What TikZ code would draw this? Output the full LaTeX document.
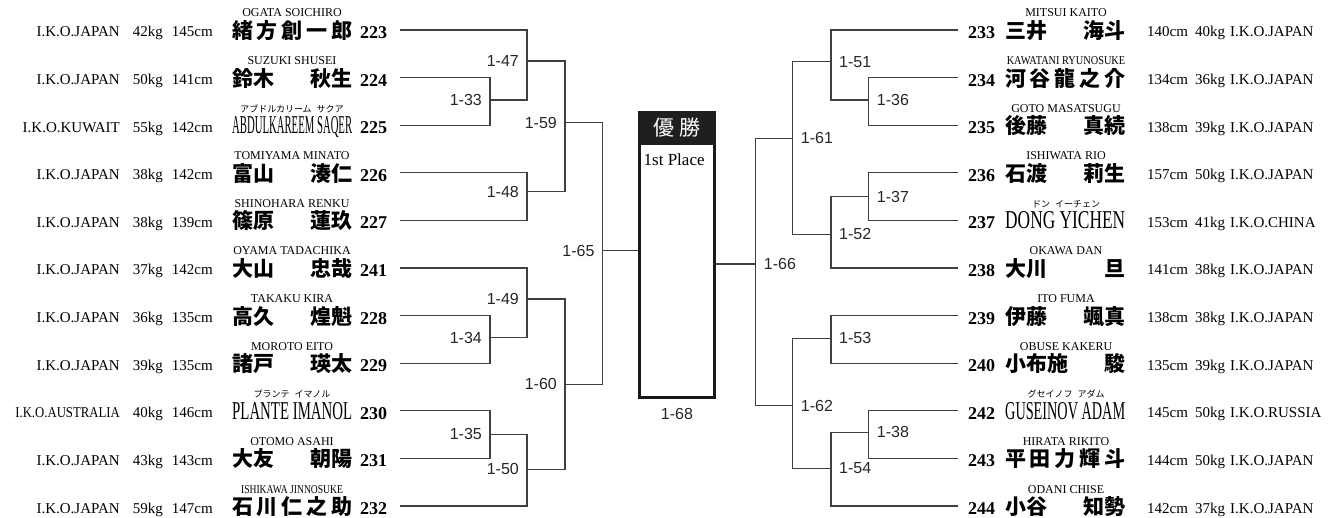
\documentclass[tikz,border=0pt]{standalone}
\usepackage{fontspec}
\usepackage{graphicx}
\setmainfont{Liberation Serif}
\setsansfont{Liberation Sans}
\newfontfamily\cjk{Noto Sans CJK JP}
\usetikzlibrary{positioning}

\newlength{\namew}
\setlength{\namew}{120pt}
\newcommand{\jn}[1]{\makebox[\namew][s]{\cjk\bfseries #1}}
\newcommand{\en}[1]{\resizebox{\namew}{17pt}{#1}}
\newcommand{\kana}{\cjk\fontsize{9}{9}\selectfont}

\tikzset{
  num/.style={inner sep=0pt, font=\fontsize{18}{18}\selectfont\bfseries},
  nm/.style={inner sep=0pt, font=\fontsize{21}{21}\selectfont},
  roma/.style={inner sep=0pt, font=\fontsize{12}{12}\selectfont},
  info/.style={inner sep=0pt, font=\fontsize{15}{15}\selectfont},
  bline/.style={draw=black!75, line width=1.1pt},
  mlabel/.style={inner sep=0pt, text=black!85, font=\sffamily\fontsize{16}{16}\selectfont},
  finalbox/.style={draw=black!90, line width=3.3pt, minimum width=74.7pt, minimum height=283.7pt, inner sep=0pt},
  head/.style={fill=black!88, text=white, minimum width=78pt, minimum height=34pt, inner sep=0pt, font=\cjk\fontsize{21}{21}\selectfont}
}

% left half: y, number, name, reading, kg, cm, country
\newcommand{\lplayer}[7]{%
  \coordinate (s#2) at (400,#1);
  \node[num, anchor=base west] (n#2) at (360,#1+8.5) {#2};
  \node[nm, anchor=base west] (p#2) at (232,#1+8.5) {#3};
  \node[roma, anchor=base] (r#2) at (292,#1-13) {#4};
  \node[info, anchor=base east] (h#2) at (213,#1+7) {#6cm};
  \node[info, anchor=base east] (w#2) at (163,#1+7) {#5kg};
  \node[info, anchor=base east] (c#2) at (120,#1+7) {#7};
}
% right half: y, number, name, reading, cm, kg, country
\newcommand{\rplayer}[7]{%
  \coordinate (s#2) at (958,#1);
  \node[num, anchor=base west] (n#2) at (968,#1+8.5) {#2};
  \node[nm, anchor=base west] (p#2) at (1005,#1+8.5) {#3};
  \node[roma, anchor=base] (r#2) at (1066,#1-13) {#4};
  \node[info, anchor=base west] (h#2) at (1147,#1+7) {#5cm};
  \node[info, anchor=base west] (w#2) at (1195,#1+7) {#6kg};
  \node[info, anchor=base west] (c#2) at (1230,#1+7) {#7};
}

\begin{document}
\begin{tikzpicture}[x=1pt, y=-1pt]
  \useasboundingbox (0,0) rectangle (1338,518);

  % entrants
  \lplayer{30}{223}{\jn{緒\hfill 方\hfill 創\hfill 一\hfill 郎}}{OGATA SOICHIRO}{42}{145}{I.K.O.JAPAN}
  \lplayer{77.6}{224}{\jn{鈴木\hfill 秋生}}{SUZUKI SHUSEI}{50}{141}{I.K.O.JAPAN}
  \lplayer{125.2}{225}{\en{ABDULKAREEM SAQER}}{\kana アブドルカリーム\hspace{5pt}サクア}{55}{142}{I.K.O.KUWAIT}
  \lplayer{172.8}{226}{\jn{富山\hfill 湊仁}}{TOMIYAMA MINATO}{38}{142}{I.K.O.JAPAN}
  \lplayer{220.4}{227}{\jn{篠原\hfill 蓮玖}}{SHINOHARA RENKU}{38}{139}{I.K.O.JAPAN}
  \lplayer{268}{241}{\jn{大山\hfill 忠哉}}{OYAMA TADACHIKA}{37}{142}{I.K.O.JAPAN}
  \lplayer{315.6}{228}{\jn{高久\hfill 煌魁}}{TAKAKU KIRA}{36}{135}{I.K.O.JAPAN}
  \lplayer{363.2}{229}{\jn{諸戸\hfill 瑛太}}{MOROTO EITO}{39}{135}{I.K.O.JAPAN}
  \lplayer{410.8}{230}{\en{PLANTE IMANOL}}{\kana プランテ\hspace{5pt}イマノル}{40}{146}{\scalebox{0.85}[1]{I.K.O.AUSTRALIA}}
  \lplayer{458.4}{231}{\jn{大友\hfill 朝陽}}{OTOMO ASAHI}{43}{143}{I.K.O.JAPAN}
  \lplayer{506}{232}{\jn{石\hfill 川\hfill 仁\hfill 之\hfill 助}}{\scalebox{0.8}[1]{ISHIKAWA JINNOSUKE}}{59}{147}{I.K.O.JAPAN}

  \rplayer{30}{233}{\jn{三井\hfill 海斗}}{MITSUI KAITO}{140}{40}{I.K.O.JAPAN}
  \rplayer{77.6}{234}{\jn{河\hfill 谷\hfill 龍\hfill 之\hfill 介}}{\scalebox{0.86}[1]{KAWATANI RYUNOSUKE}}{134}{36}{I.K.O.JAPAN}
  \rplayer{125.2}{235}{\jn{後藤\hfill 真続}}{GOTO MASATSUGU}{138}{39}{I.K.O.JAPAN}
  \rplayer{172.8}{236}{\jn{石渡\hfill 莉生}}{ISHIWATA RIO}{157}{50}{I.K.O.JAPAN}
  \rplayer{220.4}{237}{\en{DONG YICHEN}}{\kana ドン\hspace{5pt}イーチェン}{153}{41}{I.K.O.CHINA}
  \rplayer{268}{238}{\jn{大川\hfill 旦}}{OKAWA DAN}{141}{38}{I.K.O.JAPAN}
  \rplayer{315.6}{239}{\jn{伊藤\hfill 颯真}}{ITO FUMA}{138}{38}{I.K.O.JAPAN}
  \rplayer{363.2}{240}{\jn{小布施\hfill 駿}}{OBUSE KAKERU}{135}{39}{I.K.O.JAPAN}
  \rplayer{410.8}{242}{\en{GUSEINOV ADAM}}{\kana グセイノフ\hspace{5pt}アダム}{145}{50}{I.K.O.RUSSIA}
  \rplayer{458.4}{243}{\jn{平\hfill 田\hfill 力\hfill 輝\hfill 斗}}{HIRATA RIKITO}{144}{50}{I.K.O.JAPAN}
  \rplayer{506}{244}{\jn{小谷\hfill 知勢}}{ODANI CHISE}{142}{37}{I.K.O.JAPAN}

  % final box
  \node[finalbox] (final) at (677,255.8) {};
  \node[head, anchor=north] (head) at ([yshift=1.65pt]final.north) {優\hspace{5pt}勝};
  \node[anchor=base west, inner sep=0pt, font=\fontsize{17}{17}\selectfont] (place) at (643.5,165.5) {1st Place};
  \node[mlabel, below=9pt of final] (l68) {1-68};

  % match points, left
  \coordinate (m33) at (490,100);
  \coordinate (m47) at (527,61);
  \coordinate (m48) at (527,191.7);
  \coordinate (m59) at (565,122.7);
  \coordinate (m34) at (490,337.7);
  \coordinate (m49) at (527,299);
  \coordinate (m35) at (490,434.3);
  \coordinate (m50) at (527,469.3);
  \coordinate (m60) at (565,384.3);
  \coordinate (m65) at (602.7,250.7);
  % match points, right
  \coordinate (m36) at (868.7,100);
  \coordinate (m51) at (831,61.7);
  \coordinate (m37) at (868.7,196.7);
  \coordinate (m52) at (831,234.3);
  \coordinate (m61) at (792.7,138.3);
  \coordinate (m53) at (831,338.3);
  \coordinate (m38) at (868.7,432.3);
  \coordinate (m54) at (831,468.3);
  \coordinate (m62) at (792.7,405.7);
  \coordinate (m66) at (755.7,264);

  % left bracket
  \draw[bline] (s223) -| (m47) (s224) -| (m33) (s225) -| (m33) (m33) -| (m47);
  \draw[bline] (s226) -| (m48) (s227) -| (m48);
  \draw[bline] (m47) -| (m59) (m48) -| (m59);
  \draw[bline] (s241) -| (m49) (s228) -| (m34) (s229) -| (m34) (m34) -| (m49);
  \draw[bline] (s230) -| (m35) (s231) -| (m35) (s232) -| (m50) (m35) -| (m50);
  \draw[bline] (m49) -| (m60) (m50) -| (m60);
  \draw[bline] (m59) -| (m65) (m60) -| (m65);
  \draw[bline] (m65) -- (m65 -| final.west);

  % right bracket
  \draw[bline] (s233) -| (m51) (s234) -| (m36) (s235) -| (m36) (m36) -| (m51);
  \draw[bline] (s236) -| (m37) (s237) -| (m37) (s238) -| (m52) (m37) -| (m52);
  \draw[bline] (m51) -| (m61) (m52) -| (m61);
  \draw[bline] (s239) -| (m53) (s240) -| (m53);
  \draw[bline] (s242) -| (m38) (s243) -| (m38) (s244) -| (m54) (m38) -| (m54);
  \draw[bline] (m53) -| (m62) (m54) -| (m62);
  \draw[bline] (m61) -| (m66) (m62) -| (m66);
  \draw[bline] (m66) -- (m66 -| final.east);

  % match numbers
  \node[mlabel, left=8pt] (l33) at (m33) {1-33};
  \node[mlabel, left=8pt] (l47) at (m47) {1-47};
  \node[mlabel, left=8pt] (l48) at (m48) {1-48};
  \node[mlabel, left=8pt] (l59) at (m59) {1-59};
  \node[mlabel, left=8pt] (l34) at (m34) {1-34};
  \node[mlabel, left=8pt] (l49) at (m49) {1-49};
  \node[mlabel, left=8pt] (l35) at (m35) {1-35};
  \node[mlabel, left=8pt] (l50) at (m50) {1-50};
  \node[mlabel, left=8pt] (l60) at (m60) {1-60};
  \node[mlabel, left=8pt] (l65) at (m65) {1-65};
  \node[mlabel, right=8pt] (l36) at (m36) {1-36};
  \node[mlabel, right=8pt] (l51) at (m51) {1-51};
  \node[mlabel, right=8pt] (l37) at (m37) {1-37};
  \node[mlabel, right=8pt] (l52) at (m52) {1-52};
  \node[mlabel, right=8pt] (l61) at (m61) {1-61};
  \node[mlabel, right=8pt] (l53) at (m53) {1-53};
  \node[mlabel, right=8pt] (l38) at (m38) {1-38};
  \node[mlabel, right=8pt] (l54) at (m54) {1-54};
  \node[mlabel, right=8pt] (l62) at (m62) {1-62};
  \node[mlabel, right=8pt] (l66) at (m66) {1-66};
\end{tikzpicture}
\end{document}
